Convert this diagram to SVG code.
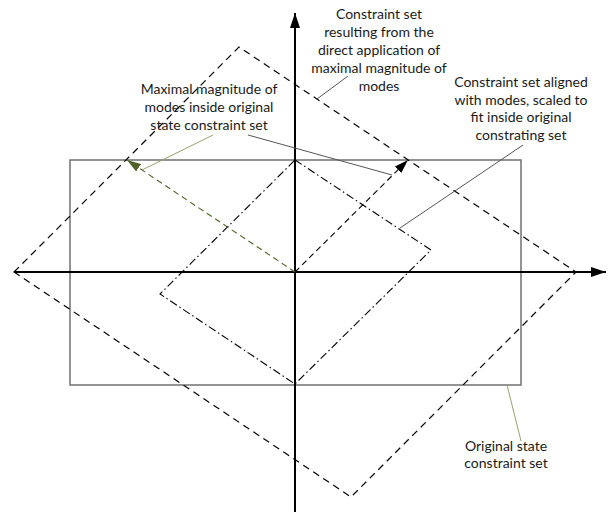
<svg xmlns="http://www.w3.org/2000/svg" width="608" height="514" viewBox="0 0 608 514">
<defs>
<style>
text{font-family:Lato,"Liberation Sans",sans-serif;font-size:14px;fill:#1a1a1a;text-anchor:middle}
.axis{stroke:#000;stroke-width:2;fill:none}
.rect{stroke:#707070;stroke-width:1.5;fill:none}
.big{stroke:#000;stroke-width:1.2;fill:none;stroke-dasharray:7 5}
.inner{stroke:#000;stroke-width:1.1;fill:none;stroke-dasharray:8 3 1.5 3}
.lead{stroke:#555;stroke-width:1;fill:none}
.leadg{stroke:#9aa072;stroke-width:1;fill:none}
.arrowk{stroke:#000;stroke-width:1.1;fill:none;stroke-dasharray:6 4}
.arrowg{stroke:#4f6228;stroke-width:1.1;fill:none;stroke-dasharray:6 4}
</style>
<marker id="ax" viewBox="0 0 15 10" refX="15" refY="5" markerWidth="15" markerHeight="10" markerUnits="userSpaceOnUse" orient="auto"><path d="M0,0 L15,5 L0,10 Z" fill="#000"/></marker>
<marker id="hk" viewBox="0 0 14 9" refX="14" refY="4.5" markerWidth="14" markerHeight="9" markerUnits="userSpaceOnUse" orient="auto"><path d="M0,0 L14,4.5 L0,9 Z" fill="#000"/></marker>
<marker id="hg" viewBox="0 0 14 9" refX="14" refY="4.5" markerWidth="14" markerHeight="9" markerUnits="userSpaceOnUse" orient="auto"><path d="M0,0 L14,4.5 L0,9 Z" fill="#4f6228"/></marker>
</defs>
<rect width="608" height="514" fill="#fff"/>
<g id="original-set"><rect class="rect" x="70" y="160" width="451" height="225"/></g>
<g id="direct-set"><polygon class="big" points="14,272 239,47 576,272 351,497"/></g>
<g id="aligned-set"><polygon class="inner" points="295,160 431,250 295,384 160,294"/></g>
<g id="axes">
<line class="axis" x1="295" y1="512" x2="295" y2="13" marker-end="url(#ax)"/>
<line class="axis" x1="14" y1="272" x2="606" y2="272" marker-end="url(#ax)"/>
</g>
<g id="connectors">
<line class="arrowk" x1="295" y1="272" x2="408" y2="160" marker-end="url(#hk)"/>
<line class="arrowg" x1="295" y1="272" x2="127" y2="160" marker-end="url(#hg)"/>
<line class="lead" x1="348" y1="76" x2="317" y2="99"/>
<line class="leadg" x1="213" y1="135" x2="142" y2="170"/>
<line class="lead" x1="248" y1="135" x2="392" y2="175"/>
<line class="lead" x1="523" y1="145" x2="400" y2="228"/>
<line class="leadg" x1="507" y1="385" x2="521" y2="441"/>
</g>
<g id="label-direct">
<text x="379" y="19">Constraint set</text>
<text x="379" y="37">resulting from the</text>
<text x="379" y="55">direct application of</text>
<text x="379" y="73">maximal magnitude of</text>
<text x="379" y="91">modes</text>
</g>
<g id="label-maximal">
<text x="209" y="94">Maximal magnitude of</text>
<text x="209" y="112">modes inside original</text>
<text x="209" y="130">state constraint set</text>
</g>
<g id="label-aligned">
<text x="521" y="87">Constraint set aligned</text>
<text x="521" y="105">with modes, scaled to</text>
<text x="521" y="122">fit inside original</text>
<text x="521" y="140">constrating set</text>
</g>
<g id="label-original">
<text x="506" y="451">Original state</text>
<text x="506" y="468">constraint set</text>
</g>
</svg>
